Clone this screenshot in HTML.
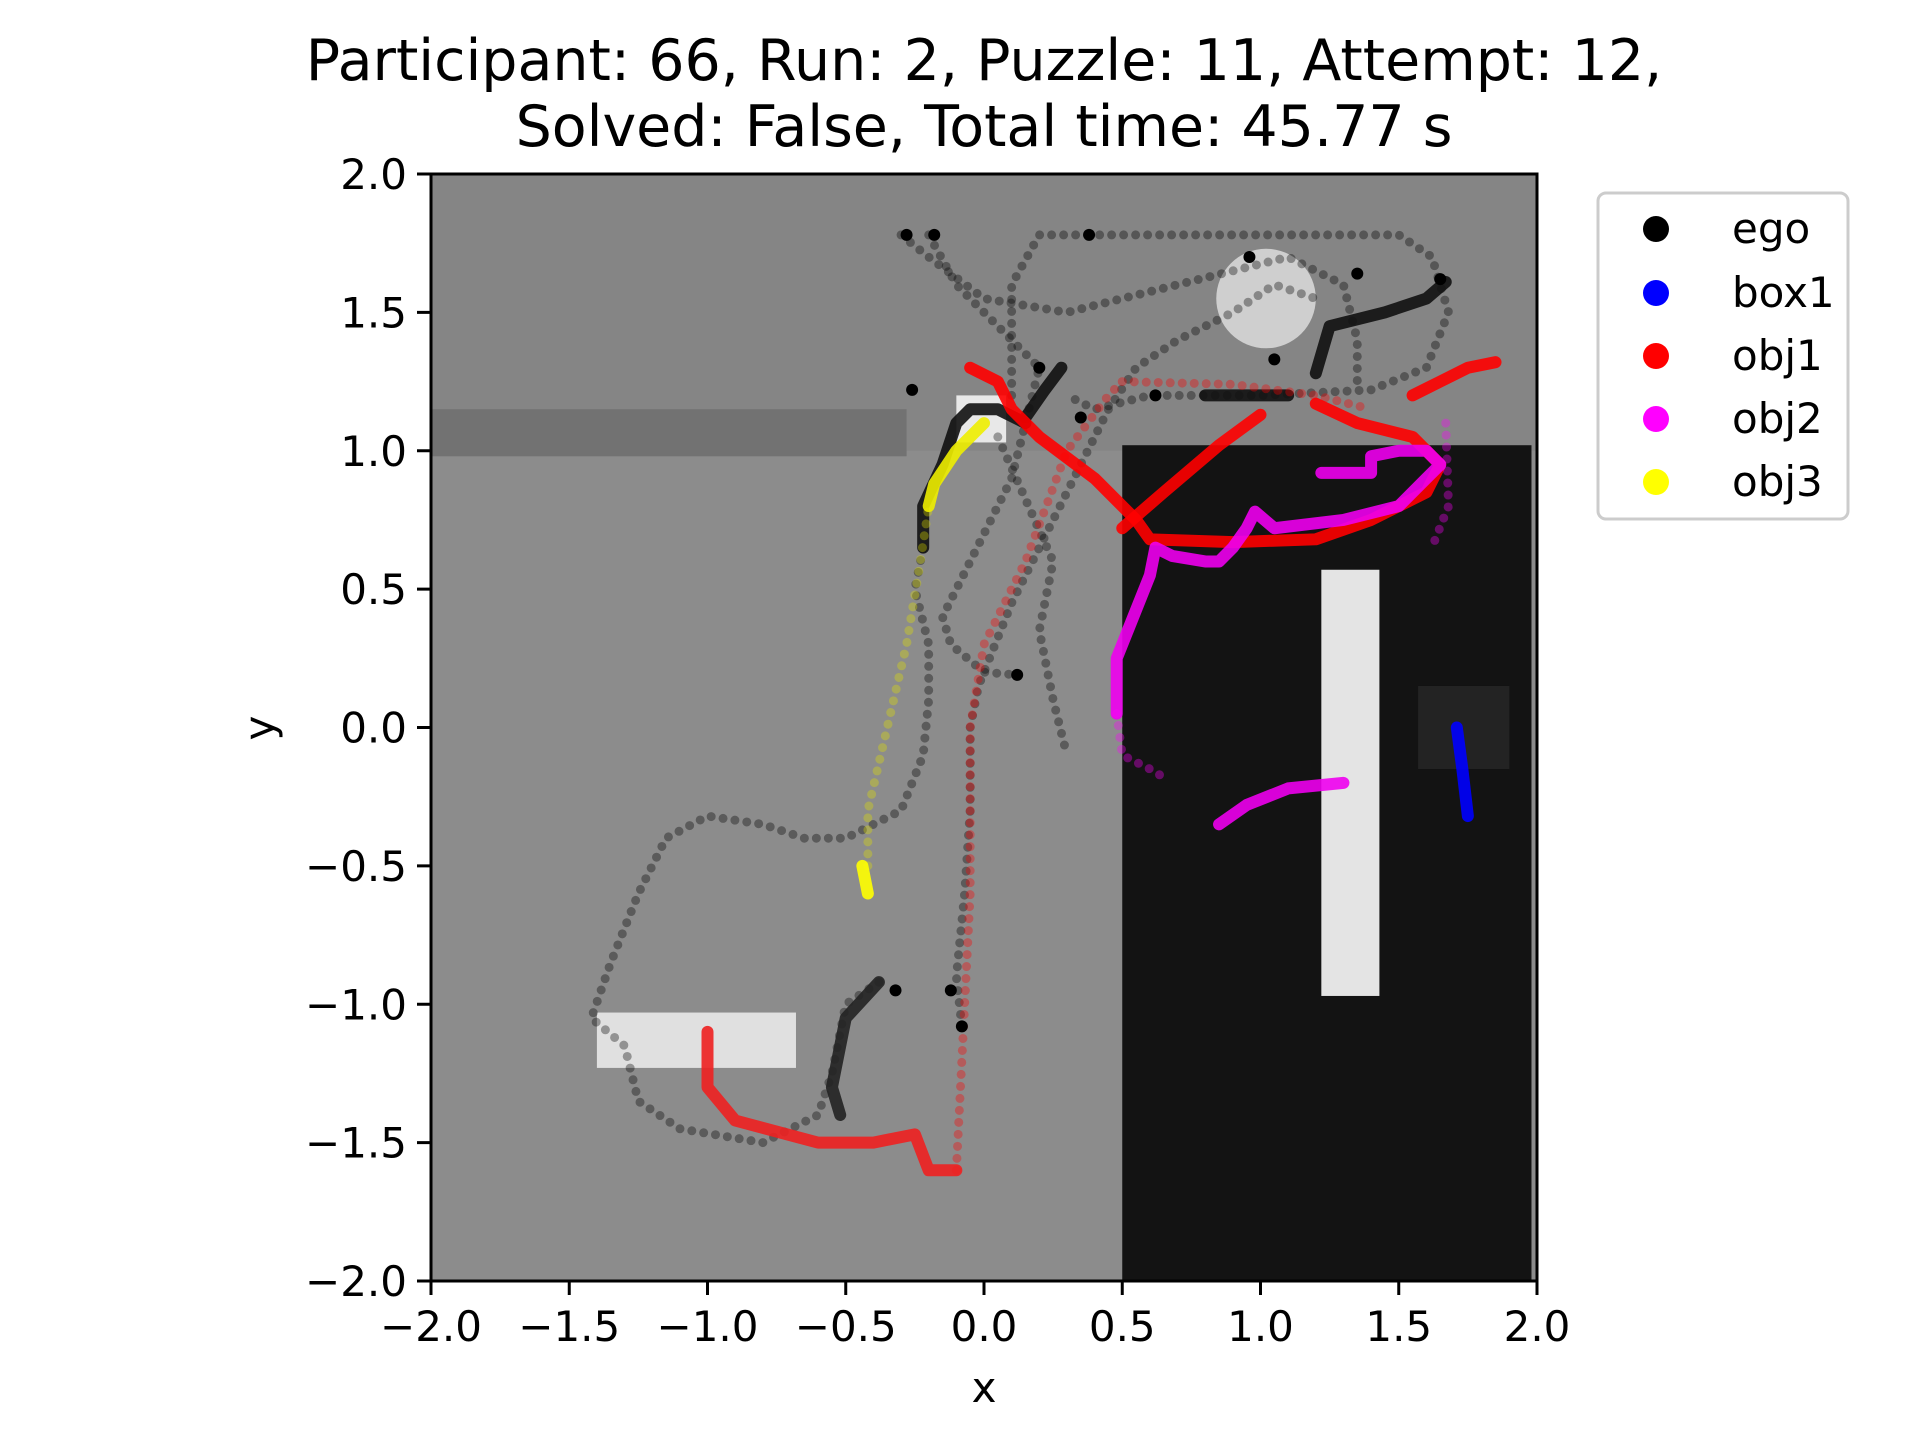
<!DOCTYPE html>
<html><head><meta charset="utf-8"><style>
html,body{margin:0;padding:0;background:#fff;}
svg{display:block;font-family:"DejaVu Sans","Liberation Sans",sans-serif;}
</style></head><body>
<svg id="chart" width="1920" height="1440" viewBox="0 0 1920 1440" xmlns="http://www.w3.org/2000/svg">
<text x="984" y="80" font-size="57" text-anchor="middle">Participant: 66, Run: 2, Puzzle: 11, Attempt: 12,</text>
<text x="984" y="146" font-size="57" text-anchor="middle">Solved: False, Total time: 45.77 s</text>
<g id="plot"></g>
<g id="axes"></g>
<text x="984" y="1402" font-size="42" text-anchor="middle">x</text>
<text x="274" y="728" font-size="42" text-anchor="middle" transform="rotate(-90 274 728)">y</text>
<g>
<rect x="1598" y="193" width="250" height="326" rx="8" fill="#fff" stroke="#ccc" stroke-width="3"/>
<circle cx="1656" cy="229" r="13" fill="#000"/><text x="1732" y="243" font-size="42">ego</text>
<circle cx="1656" cy="293" r="13" fill="#0000ff"/><text x="1732" y="307" font-size="42">box1</text>
<circle cx="1656" cy="356" r="13" fill="#ff0000"/><text x="1732" y="370" font-size="42">obj1</text>
<circle cx="1656" cy="419" r="13" fill="#ff00ff"/><text x="1732" y="433" font-size="42">obj2</text>
<circle cx="1656" cy="482" r="13" fill="#ffff00"/><text x="1732" y="496" font-size="42">obj3</text>
</g>
</svg>
<script>
const xTicks=[-2.0,-1.5,-1.0,-0.5,0.0,0.5,1.0,1.5,2.0];
const yTicks=[-2.0,-1.5,-1.0,-0.5,0.0,0.5,1.0,1.5,2.0];
const tickLabels=["\u22122.0","\u22121.5","\u22121.0","\u22120.5","0.0","0.5","1.0","1.5","2.0"];
const egoFaint1=[[-0.38,-0.92],[-0.5,-1.0],[-0.55,-1.25],[-0.6,-1.4],[-0.8,-1.5],[-1.1,-1.45],[-1.25,-1.35],[-1.3,-1.15],[-1.42,-1.05],[-1.35,-0.85],[-1.25,-0.6],[-1.15,-0.4],[-1.0,-0.32],[-0.8,-0.35],[-0.65,-0.4],[-0.5,-0.4],[-0.3,-0.3],[-0.22,-0.1],[-0.2,0.1],[-0.2,0.3],[-0.25,0.5],[-0.22,0.65]];
const egoFaint2=[[-0.08,-1.08],[-0.1,-0.9],[-0.07,-0.6],[-0.05,-0.3],[-0.05,0.0],[-0.02,0.15],[0.1,0.45],[0.25,0.75],[0.45,1.15],[0.55,1.3],[0.7,1.4],[0.9,1.5],[1.05,1.6],[1.2,1.55]];
const egoFaint3=[[0.1,1.2],[0.1,1.6],[0.2,1.78],[0.6,1.78],[1.0,1.78],[1.5,1.78],[1.62,1.7],[1.68,1.5],[1.6,1.3],[1.4,1.22],[1.0,1.2],[0.6,1.2],[0.4,1.15],[0.3,1.2]];
const egoFaint4=[[-0.3,1.78],[-0.2,1.7],[0.0,1.55],[0.3,1.5],[0.5,1.55],[0.7,1.6],[0.9,1.65],[1.1,1.7],[1.3,1.6],[1.35,1.4],[1.35,1.25]];
const egoFaint5=[[-0.2,1.78],[-0.1,1.6],[0.2,1.3],[0.1,0.9],[-0.05,0.6],[-0.15,0.4],[-0.12,0.3],[0.0,0.2],[0.12,0.19]];
const egoFaint6=[[0.05,1.05],[0.25,0.6],[0.2,0.35],[0.25,0.1],[0.3,-0.1]];
const egoSolid1=[[-0.22,0.65],[-0.22,0.8],[-0.15,0.95],[-0.1,1.1],[-0.05,1.15],[0.05,1.15],[0.15,1.1]];
const egoSolid2=[[0.15,1.12],[0.22,1.22],[0.28,1.3]];
const egoSolid3=[[1.2,1.28],[1.25,1.45],[1.45,1.5],[1.6,1.55],[1.67,1.61]];
const egoSolid4=[[0.8,1.2],[1.1,1.2]];
const egoSolid5=[[-0.52,-1.4],[-0.55,-1.3],[-0.5,-1.05],[-0.38,-0.92]];
const egoDots=[[-0.28,1.78],[-0.18,1.78],[0.38,1.78],[0.96,1.7],[1.35,1.64],[-0.26,1.22],[0.12,0.19],[-0.32,-0.95],[-0.12,-0.95],[-0.08,-1.08],[0.2,1.3],[0.35,1.12],[0.62,1.2],[1.05,1.33],[1.65,1.62]];
const obj1Solid1=[[-1.0,-1.1],[-1.0,-1.3],[-0.9,-1.42],[-0.6,-1.5],[-0.4,-1.5],[-0.25,-1.47],[-0.2,-1.6],[-0.1,-1.6]];
const obj1Faint1=[[-0.1,-1.6],[-0.08,-1.2],[-0.05,-0.6],[-0.05,0.0],[0.0,0.3],[0.15,0.6],[0.3,1.0],[0.45,1.2],[0.5,1.25]];
const obj1Solid2=[[-0.05,1.3],[0.05,1.25],[0.1,1.15],[0.2,1.05],[0.4,0.9],[0.55,0.75],[0.6,0.68],[0.9,0.67],[1.2,0.68],[1.4,0.75],[1.6,0.85],[1.65,0.95],[1.55,1.05],[1.35,1.1],[1.2,1.17]];
const obj1Solid3=[[0.5,0.72],[0.65,0.85],[0.85,1.02],[1.0,1.13]];
const obj1Solid4=[[1.55,1.2],[1.65,1.25],[1.75,1.3],[1.85,1.32]];
const obj1Faint2=[[0.5,1.25],[0.9,1.24],[1.2,1.2],[1.4,1.15]];
const obj2Solid1=[[0.48,0.05],[0.48,0.25],[0.52,0.35],[0.6,0.55],[0.62,0.65],[0.68,0.62],[0.8,0.6],[0.85,0.6],[0.9,0.65],[0.95,0.72],[0.98,0.78],[1.05,0.72],[1.3,0.75],[1.5,0.8],[1.6,0.9],[1.65,0.95],[1.6,1.0],[1.5,1.0],[1.4,0.98],[1.4,0.92],[1.22,0.92]];
const obj2Faint1=[[0.48,0.05],[0.5,-0.1],[0.6,-0.15],[0.65,-0.18]];
const obj2Solid2=[[0.85,-0.35],[0.95,-0.28],[1.1,-0.22],[1.3,-0.2]];
const obj2Faint2=[[1.67,1.1],[1.68,0.8],[1.62,0.65]];
const box1Solid=[[1.71,0.0],[1.73,-0.15],[1.75,-0.32]];
const obj3Faint=[[-0.42,-0.5],[-0.42,-0.3],[-0.35,0.0],[-0.28,0.3],[-0.23,0.6],[-0.2,0.8]];
const obj3Solid=[[-0.42,-0.6],[-0.44,-0.5]];
const obj3Solid2=[[-0.2,0.8],[-0.18,0.88],[-0.1,1.0],[0.0,1.1]];

const X0=431,X1=1537,Y0=1281,Y1=174;
const sx=v=>X0+(v+2)/4*(X1-X0);
const sy=v=>Y0-(v+2)/4*(Y0-Y1);
const NS="http://www.w3.org/2000/svg";
const plot=document.getElementById('plot');
const axes=document.getElementById('axes');
function mk(tag,attrs,parent){const e=document.createElementNS(NS,tag);for(const k in attrs)e.setAttribute(k,attrs[k]);parent.appendChild(e);return e;}
function rectD(name,x0,y0,x1,y1,fill){const r=mk('rect',{x:sx(x0),y:sy(y1),width:sx(x1)-sx(x0),height:sy(y0)-sy(y1),fill:fill},plot);

}
rectD('floor-background',-2,-2,2,2,'#8c8c8c');
rectD('upper-floor',-2,1.0,2,2,'#858585');
rectD('dark-zone',0.5,-2,1.98,1.02,'#131313');
rectD('wall-bar',-2,0.98,-0.28,1.15,'#727272');
rectD('pillar',1.22,-0.97,1.43,0.57,'#e4e4e4');
rectD('dark-box',1.57,-0.15,1.9,0.15,'#232323');
rectD('small-box',-0.1,1.03,0.08,1.2,'#e8e8e8');
rectD('bottom-box',-1.4,-1.23,-0.68,-1.03,'#e0e0e0');
const c=mk('circle',{cx:sx(1.02),cy:sy(1.55),r:(sx(0.18)-sx(0)),fill:'#cfcfcf'},plot);


function path(name,pts,color,faint){const d=pts.map(p=>sx(p[0])+','+sy(p[1])).join(' ');
const e=mk('polyline',{points:d,fill:'none',stroke:color,'stroke-width':faint?9:12,'stroke-linecap':'round','stroke-linejoin':'round',opacity:faint?0.35:0.9},plot);
if(faint)e.setAttribute('stroke-dasharray','0 12');

}
path('ego-path-1',egoFaint1,'#000',true);path('ego-path-2',egoFaint2,'#000',true);path('ego-path-3',egoFaint3,'#000',true);
path('ego-path-4',egoFaint4,'#000',true);path('ego-path-5',egoFaint5,'#000',true);path('ego-path-6',egoFaint6,'#000',true);
path('ego-solid-1',egoSolid1,'#111',false);path('ego-solid-2',egoSolid2,'#111',false);path('ego-solid-3',egoSolid3,'#111',false);
path('ego-solid-4',egoSolid4,'#111',false);path('ego-solid-5',egoSolid5,'#222',false);
path('obj1-path-faint-1',obj1Faint1,'#ff0000',true);path('obj1-path-faint-2',obj1Faint2,'#ff0000',true);
path('obj1-path-1',obj1Solid1,'#ee2020',false);path('obj1-path-2',obj1Solid2,'#ff0000',false);path('obj1-path-3',obj1Solid3,'#ff0000',false);path('obj1-path-4',obj1Solid4,'#ff0000',false);
path('obj2-path-1',obj2Solid1,'#ee00ee',false);path('obj2-path-faint-1',obj2Faint1,'#ff00ff',true);path('obj2-path-2',obj2Solid2,'#ee00ee',false);path('obj2-path-faint-2',obj2Faint2,'#ff00ff',true);
path('box1-path',box1Solid,'#0000ff',false);
path('obj3-path-faint',obj3Faint,'#e0e000',true);path('obj3-path-1',obj3Solid,'#ffff00',false);path('obj3-path-2',obj3Solid2,'#eeee00',false);
egoDots.forEach(p=>{const d=mk('circle',{cx:sx(p[0]),cy:sy(p[1]),r:6,fill:'#000'},plot);

});
const fr=mk('rect',{x:X0,y:Y1,width:X1-X0,height:Y0-Y1,fill:'none',stroke:'#000','stroke-width':3},axes);


xTicks.forEach((v,i)=>{const l=mk('line',{x1:sx(v),x2:sx(v),y1:Y0,y2:Y0+14,stroke:'#000','stroke-width':3},axes);


const t=mk('text',{x:sx(v),y:Y0+60,'font-size':42,'text-anchor':'middle'},axes);t.textContent=tickLabels[i];

});
yTicks.forEach((v,i)=>{const l=mk('line',{x1:X0-14,x2:X0,y1:sy(v),y2:sy(v),stroke:'#000','stroke-width':3},axes);


const t=mk('text',{x:X0-24,y:sy(v)+15,'font-size':42,'text-anchor':'end'},axes);t.textContent=tickLabels[i];

});
</script>
</body></html>
